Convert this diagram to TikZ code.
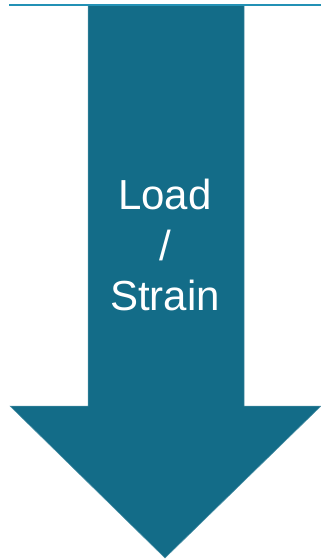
\documentclass[tikz,border=0pt]{standalone}
\usepackage{fontspec}
\setmainfont{Liberation Sans}
\usetikzlibrary{positioning}
\definecolor{arrowteal}{RGB}{19,108,136}
\definecolor{ruleblue}{RGB}{35,145,181}

\begin{document}
\begin{tikzpicture}[
      x=1pt, y=-1pt,
      arrowbody/.style = {fill=arrowteal, draw=arrowteal!75!white, line width=0.5pt},
      toprule/.style   = {draw=ruleblue, line width=2.2pt},
      arrowlabel/.style = {text=white, align=center, inner sep=0pt,
                           font=\fontsize{42}{50.5}\selectfont},
    ]
    \useasboundingbox (0,0) rectangle (321,560);
    % the down arrow
    \coordinate (s1) at (88,5);
    \coordinate (s2) at (244,5);
    \coordinate (s3) at (244,406);
    \coordinate (h1) at (321,406);
    \coordinate (tip) at (165,558);
    \coordinate (h2) at (10,406);
    \coordinate (s4) at (88,406);
    \path[arrowbody] (s1) -- (s2) -- (s3) -- (h1) -- (tip) -- (h2) -- (s4) -- cycle;
    \node[arrowlabel] (load) at (165,245) {Load\\/\\Strain};
    % line across the top
    \coordinate (r1) at (9,5);
    \coordinate (r2) at (321,5);
    \draw[toprule] (r1) -- (r2);
  \end{tikzpicture}
\end{document}
